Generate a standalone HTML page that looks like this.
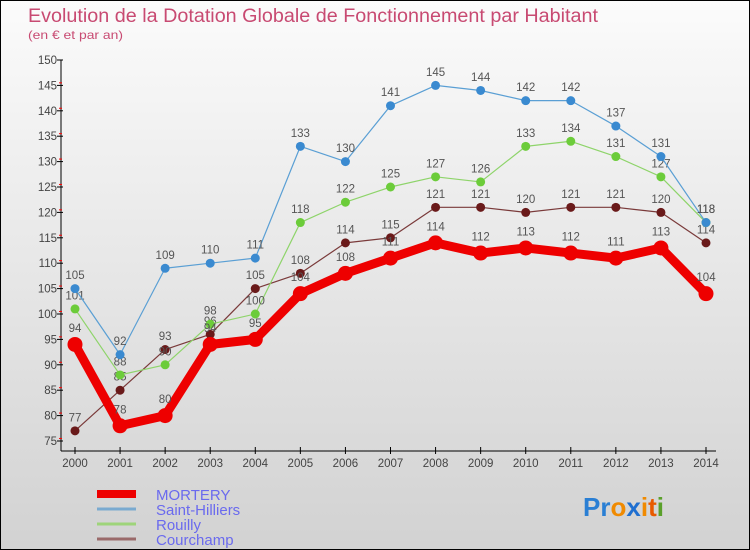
<!DOCTYPE html>
<html><head><meta charset="utf-8"><style>
html,body{margin:0;padding:0;}
body{width:750px;height:550px;overflow:hidden;font-family:"Liberation Sans",sans-serif;}
#wrap{position:relative;width:748px;height:548px;border:1px solid #000;background:linear-gradient(#fbfbfb,#d2d2d2);}
svg text{font-family:"Liberation Sans",sans-serif;}
</style></head><body>
<div id="wrap">
<svg id="chart" width="748" height="548" style="position:absolute;left:0;top:0">
<text x="27" y="21" font-size="19" fill="#c84a72" textLength="570" lengthAdjust="spacingAndGlyphs">Evolution de la Dotation Globale de Fonctionnement par Habitant</text>
<text x="27" y="38" font-size="12" fill="#c84a72" textLength="95" lengthAdjust="spacingAndGlyphs">(en € et par an)</text>
<g id="axes"></g><g id="series"></g><g id="legend"></g>
<text x="582" y="515" font-size="26" font-weight="bold"><tspan fill="#2a7fd4">Pr</tspan><tspan fill="#f08a00">o</tspan><tspan fill="#1f6fd0">x</tspan><tspan fill="#f08a00">i</tspan><tspan fill="#e85a00">t</tspan><tspan fill="#5aa02a">i</tspan></text>
</svg></div>
<script>
const years=[2000,2001,2002,2003,2004,2005,2006,2007,2008,2009,2010,2011,2012,2013,2014];
const yTicks=[75,80,85,90,95,100,105,110,115,120,125,130,135,140,145,150];
const mortery=[94,78,80,94,95,104,108,111,114,112,113,112,111,113,104];
const saintHilliers=[105,92,109,110,111,133,130,141,145,144,142,142,137,131,118];
const rouilly=[101,88,90,98,100,118,122,125,127,126,133,134,131,127,118];
const courchamp=[77,85,93,96,105,108,114,115,121,121,120,121,121,120,114];
const seriesNames=["MORTERY","Saint-Hilliers","Rouilly","Courchamp"];

const NS="http://www.w3.org/2000/svg";
const X0=74,X1=705,Y75=440,Y150=59;
const xs=i=>X0+(X1-X0)*i/(years.length-1);
const ys=v=>Y75+(v-75)*(Y150-Y75)/75;
function mk(tag,attrs,parent){const e=document.createElementNS(NS,tag);for(const k in attrs)e.setAttribute(k,attrs[k]);parent.appendChild(e);return e;}
const axes=document.getElementById('axes');
let a=mk('line',{x1:60,y1:Y150,x2:60,y2:450,stroke:'#000','stroke-width':1},axes);


a=mk('line',{x1:60,y1:450,x2:715,y2:450,stroke:'#000','stroke-width':1},axes);


yTicks.forEach(v=>{
  const y=ys(v);
  mk('line',{x1:56,y1:y,x2:62,y2:y,stroke:'#000'},axes);
  if(v<150) mk('line',{x1:58,y1:y-2.54,x2:61,y2:y-2.54,stroke:'#f00'},axes);
  const t=mk('text',{x:56,y:y+4,'font-size':11.5,fill:'#444','text-anchor':'end'},axes);
  t.textContent=v;
  
  
});
years.forEach((yr,i)=>{
  const x=xs(i);
  mk('line',{x1:x,y1:446,x2:x,y2:453,stroke:'#000'},axes);
  const t=mk('text',{x:x,y:466,'font-size':11.5,fill:'#444','text-anchor':'middle'},axes);
  t.textContent=yr;
  
  
});
const sg=document.getElementById('series');
function draw(data,name,color,pt,w,r){
  const g=mk('g',{},sg);
  
  
  const pl=mk('polyline',{points:data.map((v,i)=>xs(i)+','+ys(v)).join(' '),fill:'none',stroke:color,'stroke-width':w,'stroke-linejoin':'round'},g);
  
  
  data.forEach((v,i)=>{
    const c=mk('circle',{cx:xs(i),cy:ys(v),r:r,fill:pt},g);
    
    
    const t=mk('text',{x:xs(i),y:ys(v)-(r+5),'font-size':11.5,fill:'#555','text-anchor':'middle'},g);
    t.textContent=v;
    
    
  });
}
draw(courchamp,'courchamp','#7a3a3a','#6a1a1a',1.2,4.5);
draw(rouilly,'rouilly','#8ed46a','#6ccc3a',1.2,4.5);
draw(saintHilliers,'saint-hilliers','#5a9fd4','#3a8ad0',1.2,4.5);
draw(mortery,'mortery','#ee0000','#ee0000',9,7.5);
const lg=document.getElementById('legend');
const lcol=['#ee0000','#7aaad0','#9ed47a','#9a6a6a'];
const lw=[8,3,3,3];
seriesNames.forEach((n,i)=>{
  const y=493+i*15;
  const l=mk('line',{x1:96,y1:y,x2:135,y2:y,stroke:lcol[i],'stroke-width':lw[i]},lg);
  
  
  const t=mk('text',{x:155,y:y+6,'font-size':15,fill:'#6a6aee'},lg);
  t.textContent=n;
  
  
});
</script>
</body></html>
